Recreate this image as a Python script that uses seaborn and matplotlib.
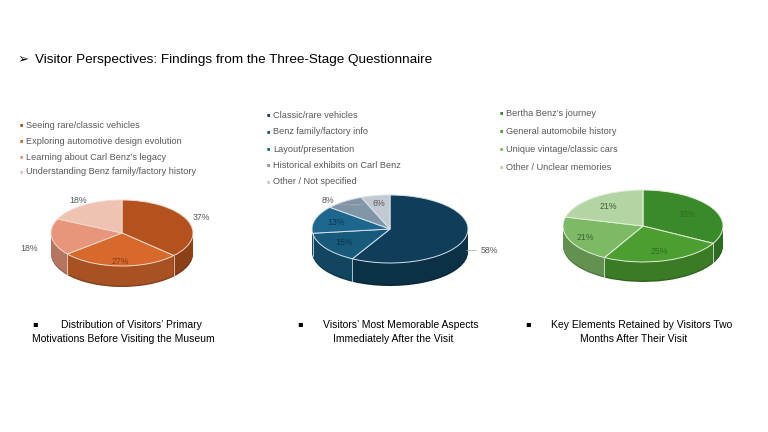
import matplotlib
matplotlib.use("Agg")
import matplotlib.pyplot as plt
import numpy as np
import seaborn as sns
from matplotlib.colors import to_rgb

W, H = 768, 432

TITLE = "Visitor Perspectives: Findings from the Three-Stage Questionnaire"

before_labels = ["Seeing rare/classic vehicles", "Exploring automotive design evolution",
                 "Learning about Carl Benz\u2019s legacy", "Understanding Benz family/factory history"]
before_values = [37, 27, 18, 18]
before_colors = ["#B4521F", "#D8692D", "#E8967B", "#F0C2B2"]

after_labels = ["Classic/rare vehicles", "Benz family/factory info", "Layout/presentation",
                "Historical exhibits on Carl Benz", "Other / Not specified"]
after_values = [58, 15, 13, 8, 6]
after_colors = ["#0F3D5A", "#175A7B", "#1D678F", "#8095A8", "#C2C9D1"]

later_labels = ["Bertha Benz\u2019s journey", "General automobile history",
                "Unique vintage/classic cars", "Other / Unclear memories"]
later_values = [33, 25, 21, 21]
later_colors = ["#3A8A2B", "#4C9E31", "#7DBA66", "#B3D5A4"]

captions = [
    ["Distribution of Visitors\u2019 Primary", "Motivations Before Visiting the Museum"],
    ["Visitors\u2019 Most Memorable Aspects", "Immediately After the Visit"],
    ["Key Elements Retained by Visitors Two", "Months After Their Visit"],
]

sns.set_theme(style="white")
plt.rcParams["font.family"] = ["Liberation Sans", "DejaVu Sans"]

fig = plt.figure(figsize=(W / 100, H / 100), dpi=100)
fig.patch.set_facecolor("white")


def fx(px):
    return px / W


def fy(py):
    return 1 - py / H


def darken(c, f):
    r, g, b = to_rgb(c)
    return (r * f, g * f, b * f)


def draw_pie(cx, cy, rx, ry, depth, values, colors, lab_r, lab_colors, edge, leaders=()):
    ax = fig.add_axes([fx(cx - 1.5 * rx), fy(cy + 1.5 * ry + depth), 3 * rx / W, (3 * ry + depth) / H])
    d = depth / ry
    side = [darken(c, 0.78) for c in colors]
    # bottom rim, a bit darker
    ax.pie(values, colors=[darken(c, 0.62) for c in colors], startangle=90, counterclock=False,
           center=(0, -d), wedgeprops=dict(linewidth=0))
    for k in np.linspace(d * 0.93, 0.02, int(depth * 1.5)):
        ax.pie(values, colors=side, startangle=90, counterclock=False, center=(0, -k),
               wedgeprops=dict(linewidth=0))
    # wedge seams on the side wall
    bounds = np.cumsum([0] + list(values)) / sum(values) * 2 * np.pi
    for t in bounds[:-1]:
        x, y = np.sin(t), np.cos(t)
        if y < -0.05:
            ax.plot([x, x], [y, y - d], color=edge, lw=0.7, alpha=0.8)
    ax.pie(values, colors=colors, startangle=90, counterclock=False,
           wedgeprops=dict(edgecolor=edge, linewidth=0.7))
    mids = (bounds[:-1] + bounds[1:]) / 2
    for i, v in enumerate(values):
        r, dy = lab_r[i]
        lx, ly = r * np.sin(mids[i]), r * np.cos(mids[i]) + dy
        ax.text(lx, ly, f"{v}%", ha="center", va="center", fontsize=6.3, color=lab_colors[i])
        if i in leaders:
            ex, ey = np.sin(mids[i]), np.cos(mids[i])
            if lx > 0:
                ax.plot([ex, lx - 0.17], [ly, ly], color="#A6A6A6", lw=0.5)
            else:
                ax.plot([lx + 0.14, lx + 0.45, ex * 0.85], [ly - 0.12, ly - 0.12, ey * 0.85],
                        color="#A6A6A6", lw=0.5)
    ax.set_xlim(-1.5, 1.5)
    ax.set_ylim(-1.5 - d, 1.5)
    ax.set_aspect("auto")
    ax.axis("off")
    return ax


def draw_legend(mx, tx, rows, labels, colors):
    for y, lab, c in zip(rows, labels, colors):
        fig.text(fx(mx), fy(y), "\u25A0", fontsize=4, color=c, va="center", ha="left")
        fig.text(fx(tx), fy(y), lab, fontsize=6.6, color="#595959", va="center", ha="left")


# title
fig.text(fx(18), fy(60), "\u27A2", fontsize=9.5, color="black", va="center",
         family=["DejaVu Sans"])
fig.text(fx(35), fy(60), TITLE, fontsize=9.7, color="black", va="center")

# legends
draw_legend(20, 26, [125, 141, 157, 172], before_labels, before_colors)
draw_legend(267, 273, [115, 132, 149, 165, 182], after_labels, after_colors)
draw_legend(500, 506, [113, 131, 149, 167], later_labels, later_colors)

# pies
draw_pie(122, 233, 71, 33, 21, before_values, before_colors,
         [(1.22, 0.0), (0.85, 0.0), (1.32, -0.3), (1.15, 0.0)],
         ["#595959", "#8A3A14", "#595959", "#595959"], "#F3D9CC")
draw_pie(390, 229, 78, 34, 23, after_values, after_colors,
         [(1.32, -0.3), (0.72, 0.0), (0.72, 0.0), (1.35, -0.25), (0.75, 0.0)],
         ["#595959", "#0E3550", "#0E3550", "#595959", "#595959"], "#D6E3EE", leaders=(0, 3))
draw_pie(643, 226, 80, 36, 20, later_values, later_colors,
         [(0.65, 0.0), (0.75, 0.0), (0.78, 0.0), (0.7, 0.0)],
         ["#2E6E22", "#2E6E22", "#3F5F36", "#3F5F36"], "#E3F0DC")

# captions
cap_centers = [123, 393, 634]
bullet_x = [35, 300, 528]
for cxp, bx, lines in zip(cap_centers, bullet_x, captions):
    fig.text(fx(bx), fy(324), "\u25AA", fontsize=6, color="black", va="center", ha="center",
             family=["DejaVu Sans"])
    fig.text(fx(cxp + 8), fy(325), lines[0], fontsize=7.5, color="black", va="center",
             ha="center")
    fig.text(fx(cxp), fy(339), lines[1], fontsize=7.5, color="black", va="center",
             ha="center")

fig.savefig("out.png", dpi=100, facecolor="white")
